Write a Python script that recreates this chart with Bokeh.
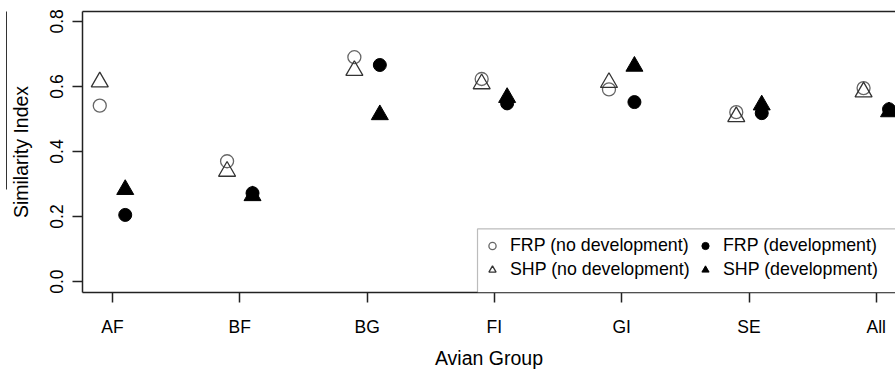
import numpy as np
from bokeh.plotting import figure
from bokeh.models import (ColumnDataSource, FixedTicker, Legend, LegendItem,
                          LinearAxis, BoxAnnotation, Range1d, PrintfTickFormatter)
from bokeh.transform import dodge
from bokeh.embed import file_html
from bokeh.resources import INLINE

# ---------------- data ----------------
groups = ["AF", "BF", "BG", "FI", "GI", "SE", "All"]
frp_nodev = [0.541, 0.370, 0.690, 0.623, 0.591, 0.521, 0.595]
frp_dev = [0.205, 0.272, 0.666, 0.548, 0.552, 0.518, 0.530]
shp_nodev = [0.614, 0.339, 0.649, 0.608, 0.612, 0.507, 0.583]
shp_dev = [0.283, 0.264, 0.513, 0.566, 0.662, 0.543, 0.522]
y_ticks = [0.0, 0.2, 0.4, 0.6, 0.8]

pos = list(range(1, len(groups) + 1))
src = ColumnDataSource(dict(x=pos, frp_nd=frp_nodev, frp_d=frp_dev,
                            shp_nd=shp_nodev, shp_d=shp_dev))

FONT = "Liberation Sans"
W, H = 895, 371
ML, MT, MB = 82, 11, 77
fw = W - ML
fh = H - MT - MB
px_x = 127.3
px_y = 327.5
X0 = 1 - 30 / px_x
X1 = X0 + fw / px_x
Y0 = -11 / px_y
Y1 = Y0 + fh / px_y

p = figure(width=W, height=H, output_backend="svg", toolbar_location=None,
           x_range=Range1d(X0, X1), y_range=Range1d(Y0, Y1),
           min_border_left=ML, min_border_right=0, min_border_top=MT,
           min_border_bottom=MB, background_fill_color="white",
           border_fill_color="white")
p.grid.visible = False
p.outline_line_color = None

# x axis
xa = p.xaxis[0]
xa.ticker = FixedTicker(ticks=pos)
xa.major_label_overrides = {i: g for i, g in zip(pos, groups)}
xa.axis_label = "Avian Group"
# y axis
ya = p.yaxis[0]
ya.ticker = FixedTicker(ticks=y_ticks)
ya.formatter = PrintfTickFormatter(format="%.1f")
ya.axis_label = "Similarity Index"
ya.major_label_orientation = "vertical"

for ax in (xa, ya):
    ax.axis_line_width = 1.5
    ax.axis_line_color = "#222222"
    ax.major_tick_line_width = 1.5
    ax.major_tick_line_color = "#222222"
    ax.major_tick_out = 10
    ax.major_tick_in = 0
    ax.minor_tick_out = 0
    ax.minor_tick_in = 0
    ax.major_label_text_font = FONT
    ax.major_label_text_font_size = "17.5px"
    ax.major_label_text_color = "black"
    ax.axis_label_text_font = FONT
    ax.axis_label_text_font_size = "19.5px"
    ax.axis_label_text_font_style = "normal"
    ax.axis_label_text_color = "black"
xa.major_label_standoff = 14
xa.axis_label_standoff = 7
ya.major_label_standoff = 9
ya.axis_label_standoff = 16

# top border of the box
top = LinearAxis(ticker=FixedTicker(ticks=[]), major_label_text_font_size="0px",
                 major_tick_out=0, major_tick_in=0, minor_tick_out=0, minor_tick_in=0,
                 major_label_standoff=0, axis_line_width=1.5, axis_line_color="#222222")
p.add_layout(top, "above")

# stray vertical rule left of the y label
rule = LinearAxis(ticker=FixedTicker(ticks=[]), major_label_text_font_size="0px",
                  major_tick_out=0, major_tick_in=0, minor_tick_out=0, minor_tick_in=0,
                  major_label_standoff=0, axis_line_width=1, axis_line_color="#333333",
                  bounds=(0.284, Y1))
p.add_layout(rule, "left")

# points
r_frp_nd = p.scatter(x=dodge("x", -0.1, range=p.x_range), y="frp_nd", source=src,
                     marker="circle", size=13, fill_color=None,
                     line_color="#666666", line_width=1.3)
r_shp_nd = p.scatter(x=dodge("x", -0.1, range=p.x_range), y="shp_nd", source=src,
                     marker="triangle", size=17, fill_color=None,
                     line_color="#333333", line_width=1.3)
r_frp_d = p.scatter(x=dodge("x", 0.1, range=p.x_range), y="frp_d", source=src,
                    marker="circle", size=13, fill_color="black",
                    line_color="black", line_width=1)
r_shp_d = p.scatter(x=dodge("x", 0.1, range=p.x_range), y="shp_d", source=src,
                    marker="triangle", size=17, fill_color="black",
                    line_color="black", line_width=1)

# legend frame
box_left_px, box_top_px = 477 - ML, 230 - MT
p.add_layout(BoxAnnotation(left=X0 + box_left_px / px_x, right=X1 + 1.0,
                           top=Y1 - box_top_px / px_y,
                           fill_color="white", fill_alpha=1.0,
                           line_color="#222222", line_width=1.2))

def make_legend(items, xoff):
    return Legend(items=items, location=(xoff, 12), orientation="vertical",
                  glyph_width=18, glyph_height=19, label_height=19, spacing=3,
                  padding=0, margin=0, label_standoff=9,
                  border_line_color=None, background_fill_alpha=0.0,
                  label_text_font=FONT, label_text_font_size="17.8px",
                  label_text_color="black")

leg1 = make_legend([LegendItem(label="FRP (no development)", renderers=[r_frp_nd]),
                    LegendItem(label="SHP (no development)", renderers=[r_shp_nd])], 483 - ML)
leg2 = make_legend([LegendItem(label="FRP (development)", renderers=[r_frp_d]),
                    LegendItem(label="SHP (development)", renderers=[r_shp_d])], 696 - ML)
p.add_layout(leg1, "center")
p.add_layout(leg2, "center")

open("out.html", "w").write(file_html(p, INLINE))
